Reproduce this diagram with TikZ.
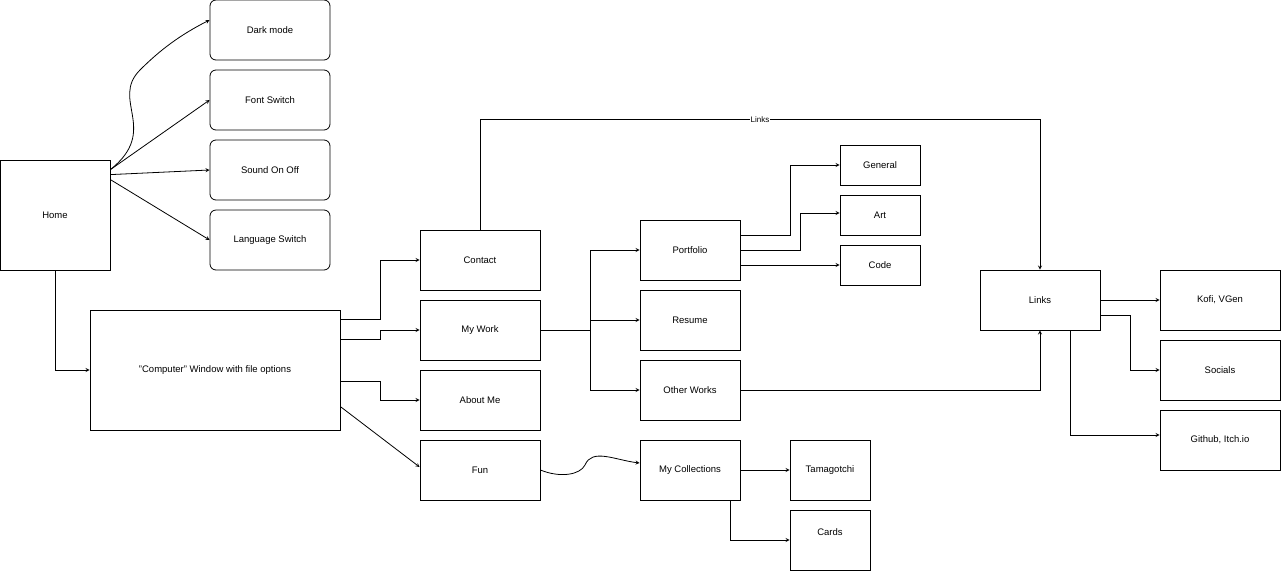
\documentclass[tikz,border=0pt]{standalone}
\usepackage{fontspec}
\setmainfont{Liberation Sans}
\usetikzlibrary{positioning}
\tikzset{
  box/.style={draw,rectangle,minimum width=#1,minimum height=60pt,inner sep=0pt,font=\fontsize{9.5}{11}\selectfont},
  box/.default=120pt,
  rbox/.style={box,rounded corners=6pt},
  arr/.style={->,>=stealth}
}
\begin{document}
\begin{tikzpicture}[x=1pt,y=-1pt,line width=0.8pt]
			\useasboundingbox (0,0) rectangle (1281,571);
			\node[box=110pt,minimum height=110pt] (home)at(55,215) {Home};
			\node[rbox] (dark)at(270,30) {Dark mode};
			\node[rbox] (font)at(270,100) {Font Switch};
			\node[rbox] (sound)at(270,170) {Sound On Off};
			\node[rbox] (lang)at(270,240) {Language Switch};
			\node[box=250pt,minimum height=120pt] (comp)at(215,370) {"Computer" Window with file options};
			\node[box] (contact)at(480,260) {Contact};
			\node[box] (work)at(480,330) {My Work};
			\node[box] (about)at(480,400) {About Me};
			\node[box] (fun)at(480,470) {Fun};
			\node[box=100pt] (port)at(690,250) {Portfolio};
			\node[box=100pt] (resume)at(690,320) {Resume};
			\node[box=100pt] (other)at(690,390) {Other Works};
			\node[box=80pt,minimum height=40pt] (general)at(880,165) {General};
			\node[box=80pt,minimum height=40pt] (art)at(880,215) {Art};
			\node[box=80pt,minimum height=40pt] (code)at(880,265) {Code};
			\node[box] (links)at(1040,300) {Links};
			\node[box] (kofi)at(1220,300) {Kofi, VGen};
			\node[box] (soc)at(1220,370) {Socials};
			\node[box] (git)at(1220,440) {Github, Itch.io};
			\node[box=100pt] (coll)at(690,470) {My Collections};
			\node[box=80pt] (tama)at(830,470) {Tamagotchi};
			\node[box=80pt,text depth=16pt] (cards)at(830,540) {Cards};
			% home menu
			\draw[arr] ([yshift=-10pt]home.north east) .. controls (160,130) and (110,100) .. (140,70) .. controls (160,50) and (180,35) .. ([yshift=10pt]dark.west);
			\draw[arr] ([yshift=-10pt]home.north east) -- (font.west);
			\draw[arr] ([yshift=-15pt]home.north east) -- (sound.west);
			\draw[arr] ([yshift=-20pt]home.north east) -- (lang.west);
			\draw[arr] (home.south) |- (comp.west);
			% computer window
			\draw[arr] ([yshift=-10pt]comp.north east) -- ++(40,0) |- (contact.west);
			\draw[arr] ([yshift=-30pt]comp.north east) -- ++(40,0) |- (work.west);
			\draw[arr] ([yshift=-72pt]comp.north east) -- ++(40,0) |- (about.west);
			\draw[arr] ([yshift=-97pt]comp.north east) -- ([yshift=3pt]fun.west);
			\draw[arr] (contact.north) -- ++(0,-110) -| node[pos=0.25,fill=white,inner sep=1pt,font=\fontsize{8}{9}\selectfont]{Links} (links.north);
			% my work
			\draw[arr] (work.east) -- ++(50,0) |- (port.west);
			\draw[arr] (work.east) -- ++(50,0) |- (resume.west);
			\draw[arr] (work.east) -- ++(50,0) |- (other.west);
			\draw[arr] ([yshift=15pt]port.east) -- ++(50,0) |- (general.west);
			\draw[arr] (port.east) -- ++(60,0) |- ([yshift=2pt]art.west);
			\draw[arr] ([yshift=-15pt]port.east) -- (code.west);
			\draw[arr] (other.east) -| (links.south);
			% links
			\draw[arr] (links.east) -- (kofi.west);
			\draw[arr] ([yshift=-15pt]links.east) -- ++(30,0) |- (soc.west);
			\draw[arr] ([xshift=30pt]links.south) |- ([yshift=5pt]git.west);
			% fun
			\draw[arr] (fun.east) .. controls (560,478) and (580,475) .. (585,465) .. controls (592,448) and (615,460) .. ([yshift=7pt]coll.west);
			\draw[arr] (coll.east) -- (tama.west);
			\draw[arr] ([xshift=40pt]coll.south) |- (cards.west);
		\end{tikzpicture}
\end{document}
